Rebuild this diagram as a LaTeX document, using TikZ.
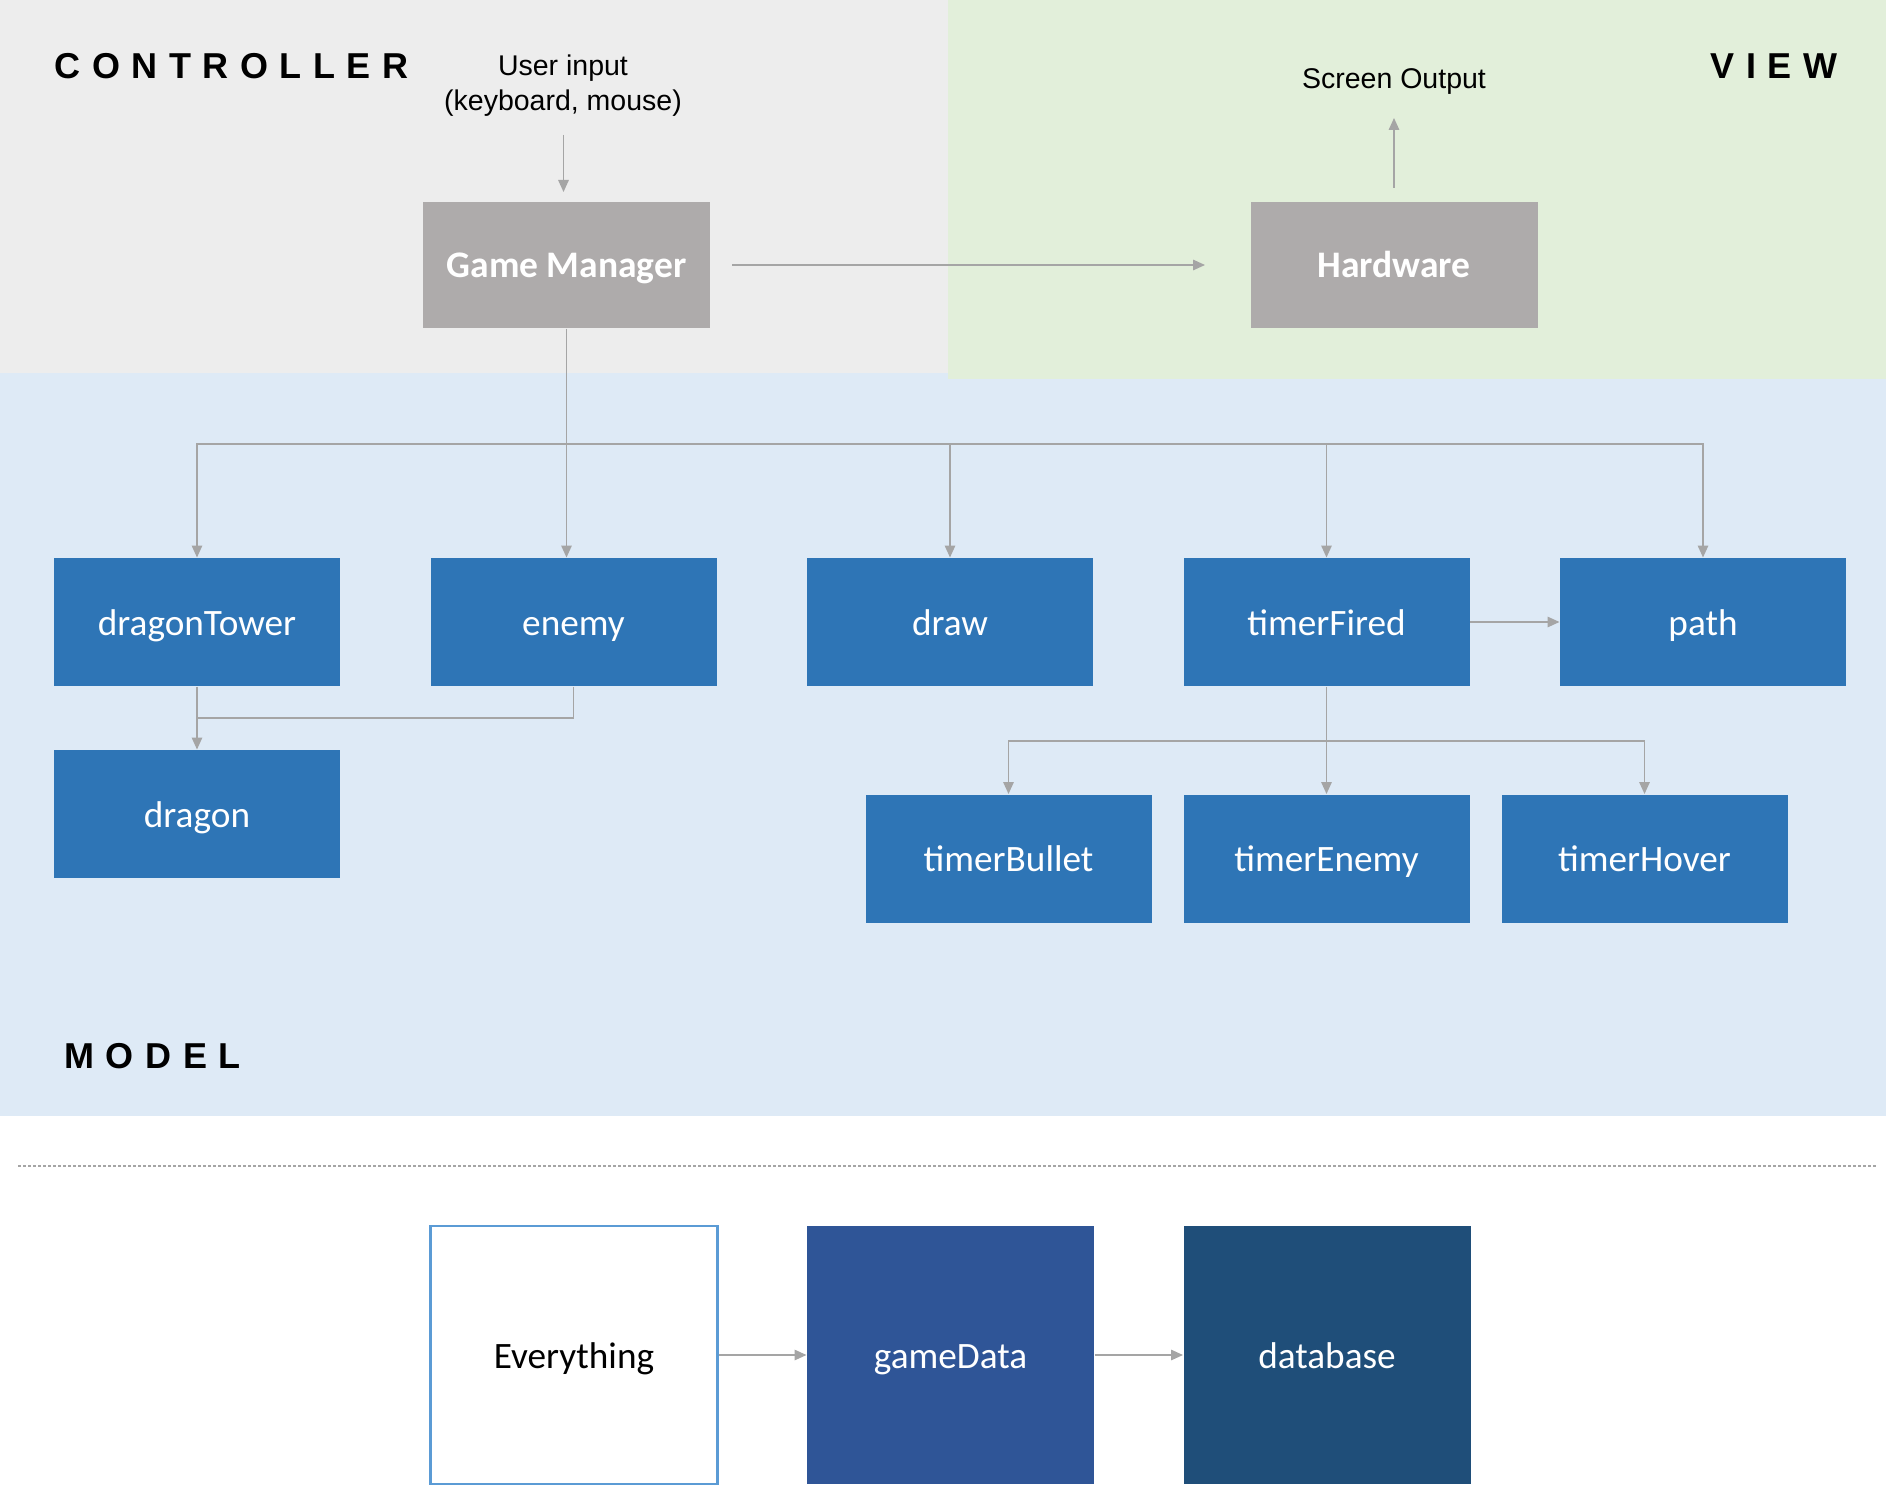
\documentclass[tikz,border=0pt]{standalone}
\usepackage{fontspec}
\usetikzlibrary{arrows.meta}
\newfontfamily\boxfont{Carlito}
\newfontfamily\labfont{Liberation Sans}
\newfontfamily\ttlfont[LetterSpace=32]{Liberation Sans}
\definecolor{ctrlbg}{HTML}{EDEDED}
\definecolor{viewbg}{HTML}{E2EFDA}
\definecolor{modelbg}{HTML}{DEEAF6}
\definecolor{greybox}{HTML}{AEABAB}
\definecolor{bluebox}{HTML}{2E75B6}
\definecolor{gdbox}{HTML}{2F5597}
\definecolor{dbbox}{HTML}{1F4E79}
\definecolor{evborder}{HTML}{5B9BD5}
\definecolor{conn}{HTML}{A5A5A5}
\begin{document}
\begin{tikzpicture}[x=0.4pt,y=-0.4pt,
  basen/.style={draw=none,inner sep=0pt,text height=12pt,text depth=1.6pt},
  greyn/.style={basen,fill=greybox,minimum width=114.8pt,minimum height=50.4pt,text=white,font=\boxfont\bfseries\fontsize{15pt}{18pt}\selectfont},
  bluen/.style={basen,fill=bluebox,minimum width=114.4pt,minimum height=51.2pt,text=white,font=\boxfont\fontsize{14.9pt}{17pt}\selectfont},
  bign/.style={basen,minimum width=114.8pt,minimum height=103.2pt,font=\boxfont\fontsize{14.9pt}{17pt}\selectfont},
  lab/.style={font=\labfont\fontsize{11.4pt}{14pt}\selectfont,align=center,inner sep=0pt},
  ttl/.style={font=\ttlfont\bfseries\fontsize{14.4pt}{17pt}\selectfont,inner sep=0pt,anchor=west},
  con/.style={draw=conn,line width=0.6pt},
  arr/.style={con,-{Triangle[length=4.8pt,width=4.2pt]}}]
\useasboundingbox (0,0) rectangle (1886,1485);
% backgrounds
\fill[white] (0,0) rectangle (1886,1485);
\fill[modelbg] (0,370) rectangle (1886,1116);
\fill[ctrlbg] (0,0) rectangle (948,373);
\fill[viewbg] (948,0) rectangle (1886,379);
% titles
\node[ttl] (tctrl) at (54,66) {CONTROLLER};
\node[ttl] (tview) at (1710,66) {VIEW};
\node[ttl] (tmodel) at (64,1056) {MODEL};
% labels
\node[lab] (uin) at (563,86) {User input\\(keyboard, mouse)};
\node[lab] (scr) at (1394,82) {Screen Output};
% boxes
\node[greyn] (gm) at (566.5,265) {Game Manager};
\node[greyn] (hw) at (1394,265) {Hardware};
\node[bluen] (dt) at (197,622) {dragonTower};
\node[bluen] (en) at (573.5,622) {enemy};
\node[bluen] (dr) at (950,622) {draw};
\node[bluen] (tf) at (1326.5,622) {timerFired};
\node[bluen] (pa) at (1703,622) {path};
\node[bluen] (dg) at (197,814) {dragon};
\node[bluen] (tb) at (1008.5,858.5) {timerBullet};
\node[bluen] (te) at (1326.5,858.5) {timerEnemy};
\node[bluen] (th) at (1644.5,858.5) {timerHover};
\node[bign,fill=white,draw=evborder,line width=1pt] (ev) at (574,1355) {Everything};
\node[bign,fill=gdbox,text=white] (gd) at (950.5,1355) {gameData};
\node[bign,fill=dbbox,text=white] (db) at (1327,1355) {database};
% dotted separator
\coordinate (sepL) at (18,1166);
\coordinate (sepR) at (1877,1166);
\draw[conn,line width=0.8pt,dash pattern=on 1.2pt off 0.8pt] (sepL) -- (sepR);
% connectors
\coordinate (uinA) at (563.5,135);
\coordinate (uinB) at (563.5,192);
\draw[arr] (uinA) -- (uinB);
\coordinate (gmR) at (732,265);
\coordinate (hwL) at (1205,265);
\draw[arr] (gmR) -- (hwL);
\coordinate (hwT) at (1394,188);
\coordinate (scrB) at (1394,118);
\draw[arr] (hwT) -- (scrB);
\coordinate (bus) at (566.5,444);
\draw[con] (gm.south) -- (bus);
\draw[arr] (bus) -| (dt.north);
\draw[arr] (bus) -- (bus |- en.north);
\draw[arr] (bus) -| (dr.north);
\draw[arr] (bus) -| (tf.north);
\draw[arr] (bus) -| (pa.north);
\coordinate (ej) at (574,718);
\draw[arr] (dt.south) -- (dg.north);
\draw[con] (en.south) |- (dt.south |- ej);
\draw[arr] (tf.east) -- (pa.west);
\coordinate (tbus) at (1326.5,741);
\draw[arr] (tf.south) -- (te.north);
\draw[arr] (tbus) -| (tb.north);
\draw[arr] (tbus) -| (th.north);
\draw[arr] (ev.east) -- (gd.west);
\draw[arr] (gd.east) -- (db.west);
\end{tikzpicture}
\end{document}
